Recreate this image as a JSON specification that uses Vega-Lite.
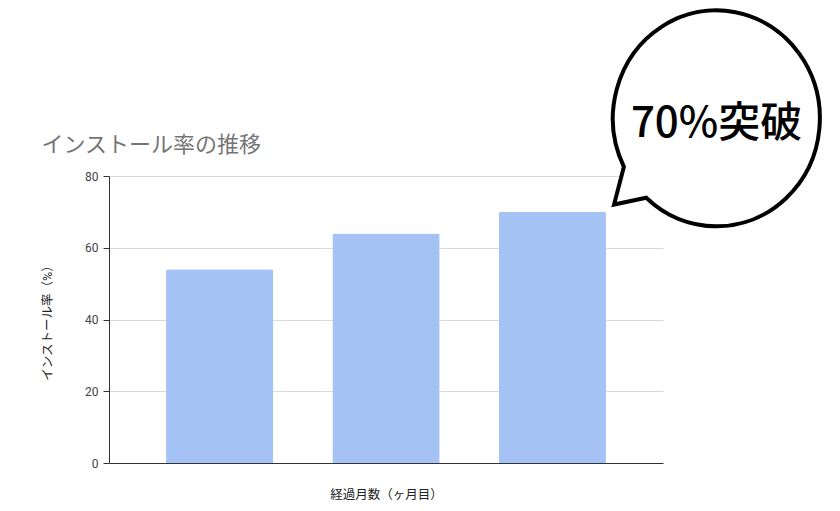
{
  "$schema": "https://vega.github.io/schema/vega-lite/v6.json",
  "width": 554,
  "height": 287,
  "autosize": {"type": "none"},
  "padding": {"left": 109, "top": 176, "right": 177, "bottom": 48},
  "title": {
    "text": "インストール率の推移",
    "anchor": "start",
    "frame": "bounds",
    "font": "Roboto, Noto Sans CJK JP",
    "fontSize": 22,
    "fontWeight": "normal",
    "color": "#757575",
    "offset": 18,
    "dy": 173
  },
  "datasets": {
    "rates": [
      {"month": "1", "rate": 54},
      {"month": "2", "rate": 64},
      {"month": "3", "rate": 70}
    ],
    "callout": [
      {"pos": 3.29, "level": 96, "textLevel": 94.6, "label": "70%突破"}
    ]
  },
  "layer": [
    {
      "data": {"name": "rates"},
      "mark": {
        "type": "bar",
        "color": "#a4c2f4",
        "cornerRadiusTopLeft": 2,
        "cornerRadiusTopRight": 2
      },
      "encoding": {
        "x": {
          "field": "month",
          "type": "nominal",
          "scale": {"paddingInner": 0.355, "paddingOuter": 0.343},
          "axis": {
            "title": "経過月数（ヶ月目）",
            "labels": false,
            "ticks": false,
            "domainColor": "#333333",
            "titleFont": "Roboto, Noto Sans CJK JP",
            "titleFontSize": 12.5,
            "titleFontWeight": "normal",
            "titleColor": "#222222",
            "titlePadding": 25
          }
        },
        "y": {
          "field": "rate",
          "type": "quantitative",
          "scale": {"domain": [0, 80], "nice": false},
          "axis": {
            "title": "インストール率（%）",
            "values": [0, 20, 40, 60, 80],
            "domainColor": "#333333",
            "tickColor": "#333333",
            "tickSize": 6,
            "labelPadding": 5,
            "labelFont": "Roboto",
            "labelFontSize": 12,
            "labelColor": "#444444",
            "gridColor": "#dadada",
            "titleFont": "Roboto, Noto Sans CJK JP",
            "titleFontSize": 12.5,
            "titleFontWeight": "normal",
            "titleColor": "#222222",
            "titlePadding": 30
          }
        }
      }
    },
    {
      "data": {"name": "callout"},
      "encoding": {
        "x": {
          "field": "pos",
          "type": "quantitative",
          "scale": {"domain": [0, 3], "nice": false, "zero": false},
          "axis": null
        }
      },
      "layer": [
        {
          "mark": {
            "type": "point",
            "shape": "M -0.858 0.446 L -0.949 0.796 L -0.651 0.733 A 0.958 1 0 1 0 -0.858 0.446 Z",
            "size": 46656,
            "filled": true,
            "fill": "white",
            "stroke": "black",
            "strokeWidth": 4,
            "opacity": 1
          },
          "encoding": {
            "y": {
              "field": "level",
              "type": "quantitative",
              "scale": {"domain": [0, 80], "nice": false},
              "axis": null
            }
          }
        },
        {
          "mark": {
            "type": "text",
            "font": "Noto Sans CJK JP",
            "fontSize": 42,
            "fontWeight": 500,
            "color": "black",
            "align": "center",
            "baseline": "middle"
          },
          "encoding": {
            "y": {
              "field": "textLevel",
              "type": "quantitative",
              "scale": {"domain": [0, 80], "nice": false},
              "axis": null
            },
            "text": {"field": "label"}
          }
        }
      ]
    }
  ],
  "resolve": {
    "scale": {"x": "independent"},
    "axis": {"y": "independent"}
  },
  "config": {"view": {"stroke": null}}
}
